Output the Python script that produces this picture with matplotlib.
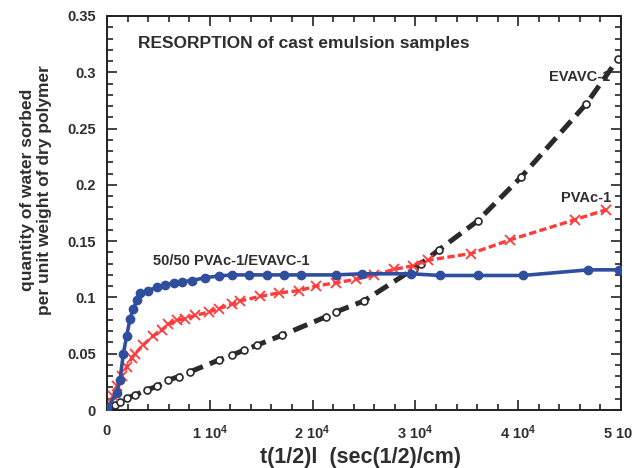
import matplotlib
matplotlib.use("Agg")
import matplotlib.pyplot as plt
from matplotlib.ticker import MultipleLocator, FuncFormatter

plt.rcParams['font.family'] = ['Liberation Sans', 'DejaVu Sans']
plt.rcParams['font.weight'] = 'bold'
plt.rcParams['mathtext.fontset'] = 'custom'
plt.rcParams['mathtext.bf'] = 'Liberation Sans:bold'
plt.rcParams['mathtext.rm'] = 'Liberation Sans:bold'

# sorption time t(1/2)/l and water uptake per unit weight of dry polymer
blend_t = [0, 950, 1270, 1590, 1920, 2240, 2570, 2900, 3220, 4030, 4840, 5660,
           6470, 7280, 8260, 9560, 10860, 12160, 13780, 15570, 17200, 18830,
           22240, 24850, 29560, 32420, 36060, 40460, 46800, 49790]
blend_q = [0.0015, 0.015, 0.027, 0.050, 0.066, 0.081, 0.090, 0.0975, 0.104,
           0.106, 0.109, 0.111, 0.113, 0.114, 0.115, 0.1176, 0.119, 0.120,
           0.120, 0.120, 0.120, 0.120, 0.120, 0.121, 0.121, 0.1195, 0.1195,
           0.1195, 0.1245, 0.1245]

pvac_t = [0, 615, 940, 1430, 1900, 2410, 2730, 3540, 4520, 5330, 5980, 6800,
          7610, 8590, 9880, 10860, 12160, 12980, 14930, 16710, 18660, 20290,
          22240, 24200, 25980, 27930, 29720, 31190, 35410, 39160, 45500, 48580]
pvac_q = [0.001, 0.012, 0.021, 0.030, 0.038, 0.046, 0.050, 0.058, 0.066, 0.071,
          0.076, 0.080, 0.081, 0.084, 0.087, 0.090, 0.094, 0.097, 0.101, 0.104,
          0.106, 0.110, 0.113, 0.116, 0.120, 0.125, 0.128, 0.133, 0.139, 0.151,
          0.169, 0.178]

evavc_t = [0, 780, 1270, 1920, 2730, 3860, 4840, 5980, 6960, 8100, 10860, 12160,
           13300, 14600, 17040, 21270, 22240, 25010, 29880, 30540, 32320, 36060,
           40290, 46630, 49720]
evavc_q = [0.001, 0.0044, 0.0074, 0.0103, 0.0133, 0.0177, 0.021, 0.0266, 0.0296,
           0.034, 0.0443, 0.0488, 0.053, 0.0576, 0.0665, 0.0827, 0.087, 0.097,
           0.1256, 0.130, 0.1425, 0.168, 0.207, 0.272, 0.312]

x_ticks = [0, 10000, 20000, 30000, 40000, 50000]
x_labels = ['0', r'1 $\mathbf{10^{4}}$', r'2 $\mathbf{10^{4}}$',
            r'3 $\mathbf{10^{4}}$', r'4 $\mathbf{10^{4}}$', r'5 $\mathbf{10^{4}}$']

txt = '#2e2e2e'

fig = plt.figure(figsize=(6.32, 4.68), dpi=100)
ax = fig.add_axes([107/632, 58/468, 514/632, 394/468])

ax.plot(evavc_t, evavc_q, color='#2a2a2a', lw=3.6, dashes=(3.0, 1.5),
        marker='o', ms=5, mfc='white', mec='#2a2a2a', mew=1.2, zorder=2)
ax.plot(pvac_t, pvac_q, color='#ff3b3b', lw=2.4, dashes=(2.2, 1.0),
        marker='x', ms=6.5, mec='#ff3b3b', mew=1.3, zorder=3)
ax.plot(blend_t, blend_q, color='#2f4f9e', lw=2.6, ls='-',
        marker='o', ms=6, mfc='#2f4f9e', mec='#2f4f9e', zorder=4)

ax.set_xlim(0, 50000)
ax.set_ylim(0, 0.35)
ax.set_xticks(x_ticks)
ax.set_xticklabels(x_labels)
ax.xaxis.set_minor_locator(MultipleLocator(2000))
ax.yaxis.set_major_locator(MultipleLocator(0.05))
ax.yaxis.set_minor_locator(MultipleLocator(0.01))
ax.yaxis.set_major_formatter(FuncFormatter(lambda v, p: f'{v:g}'))

ax.tick_params(which='both', direction='in', top=True, right=True,
               colors='#222222', labelcolor=txt, labelsize=10.5, width=1.2)
ax.tick_params(which='major', length=7, pad=8)
ax.tick_params(axis='x', which='major', pad=10)
ax.tick_params(which='minor', length=4)
for s in ax.spines.values():
    s.set_linewidth(1.4)
    s.set_color('#222222')

ax.text(0.06, 0.93, 'RESORPTION of cast emulsion samples', transform=ax.transAxes,
        fontsize=12.5, fontweight='bold', color=txt, va='center')
ax.text(4500, 0.132, '50/50 PVAc-1/EVAVC-1', fontsize=10.5, fontweight='bold',
        color=txt, va='center')
ax.text(49000, 0.2955, 'EVAVC-1', fontsize=10.5, fontweight='bold',
        color=txt, va='center', ha='right')
ax.text(49000, 0.188, 'PVAc-1', fontsize=10.5, fontweight='bold',
        color=txt, va='center', ha='right')

fig.text(360/632, 1 - 457/468, 't(1/2)l  (sec(1/2)/cm)', fontsize=15.5,
         fontweight='bold', color=txt, ha='center', va='center')
fig.text(36/632, 1 - 190/468, 'quantity of water sorbed\nper unit weight of dry polymer',
         fontsize=12.5, fontweight='bold', color=txt, rotation=90,
         ha='center', va='center', multialignment='center', linespacing=1.1)

fig.savefig('out.png', dpi=100)
